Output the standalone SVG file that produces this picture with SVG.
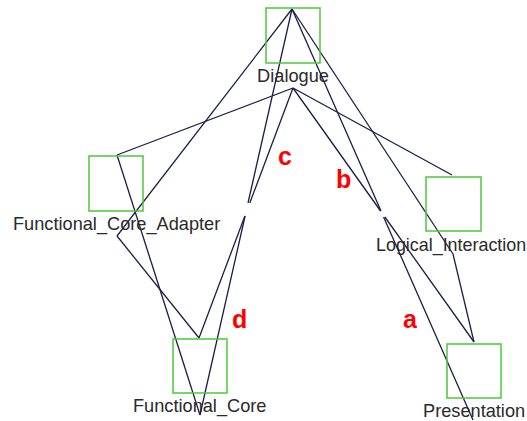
<svg xmlns="http://www.w3.org/2000/svg" width="527" height="421" viewBox="0 0 527 421">
<style>
.box{fill:none;stroke:#4cc83a;stroke-width:1.5}
.lbl{font-family:"Liberation Sans",Arial,sans-serif;font-size:18.2px;fill:#2a2a2a}
.edge{fill:none;stroke:#1c1c4a;stroke-width:1.3}
.tag{font-family:"Liberation Sans",Arial,sans-serif;font-size:25px;font-weight:bold;fill:#ff0000}
</style>
<rect width="527" height="421" fill="#ffffff"/>
<g id="connectors">
<path class="edge" d="M292,9 L117,236"/>
<path class="edge" d="M293,88 L117,155"/>
<path class="edge" d="M117,236 L199,338"/>
<path class="edge" d="M117,155 L200,415"/>
<path class="edge" d="M292,9 L248,203 M245.1,216 L200,415"/>
<path class="edge" d="M293,88 L249.8,203 M244.9,216 L199,338"/>
<path class="edge" d="M293,88 L452,175"/>
<path class="edge" d="M292,9 L453,254"/>
<path class="edge" d="M453,254 L474,342"/>
<path class="edge" d="M292,9 L381,211 M383.6,217 L473,420"/>
<path class="edge" d="M293,88 L380.6,211 M384.9,217 L474,342"/>
</g>
<g id="Dialogue">
<rect class="box" x="266" y="8" width="54" height="55"/>
<text class="lbl" x="293" y="82" text-anchor="middle">Dialogue</text>
</g>
<g id="Functional_Core_Adapter">
<rect class="box" x="89" y="156" width="54" height="55"/>
<text class="lbl" x="13" y="230">Functional_Core_Adapter</text>
</g>
<g id="Logical_Interaction">
<rect class="box" x="426" y="177" width="55" height="54"/>
<text class="lbl" x="376" y="251" style="font-size:17.9px">Logical_Interaction</text>
</g>
<g id="Functional_Core">
<rect class="box" x="173" y="339" width="54" height="54"/>
<text class="lbl" x="133" y="412">Functional_Core</text>
</g>
<g id="Presentation">
<rect class="box" x="447" y="344" width="54" height="54"/>
<text class="lbl" x="423" y="417">Presentation</text>
</g>
<g id="labels">
<text class="tag" x="278" y="165">c</text>
<text class="tag" x="336" y="188">b</text>
<text class="tag" x="232" y="328">d</text>
<text class="tag" x="403" y="328">a</text>
</g>
</svg>
